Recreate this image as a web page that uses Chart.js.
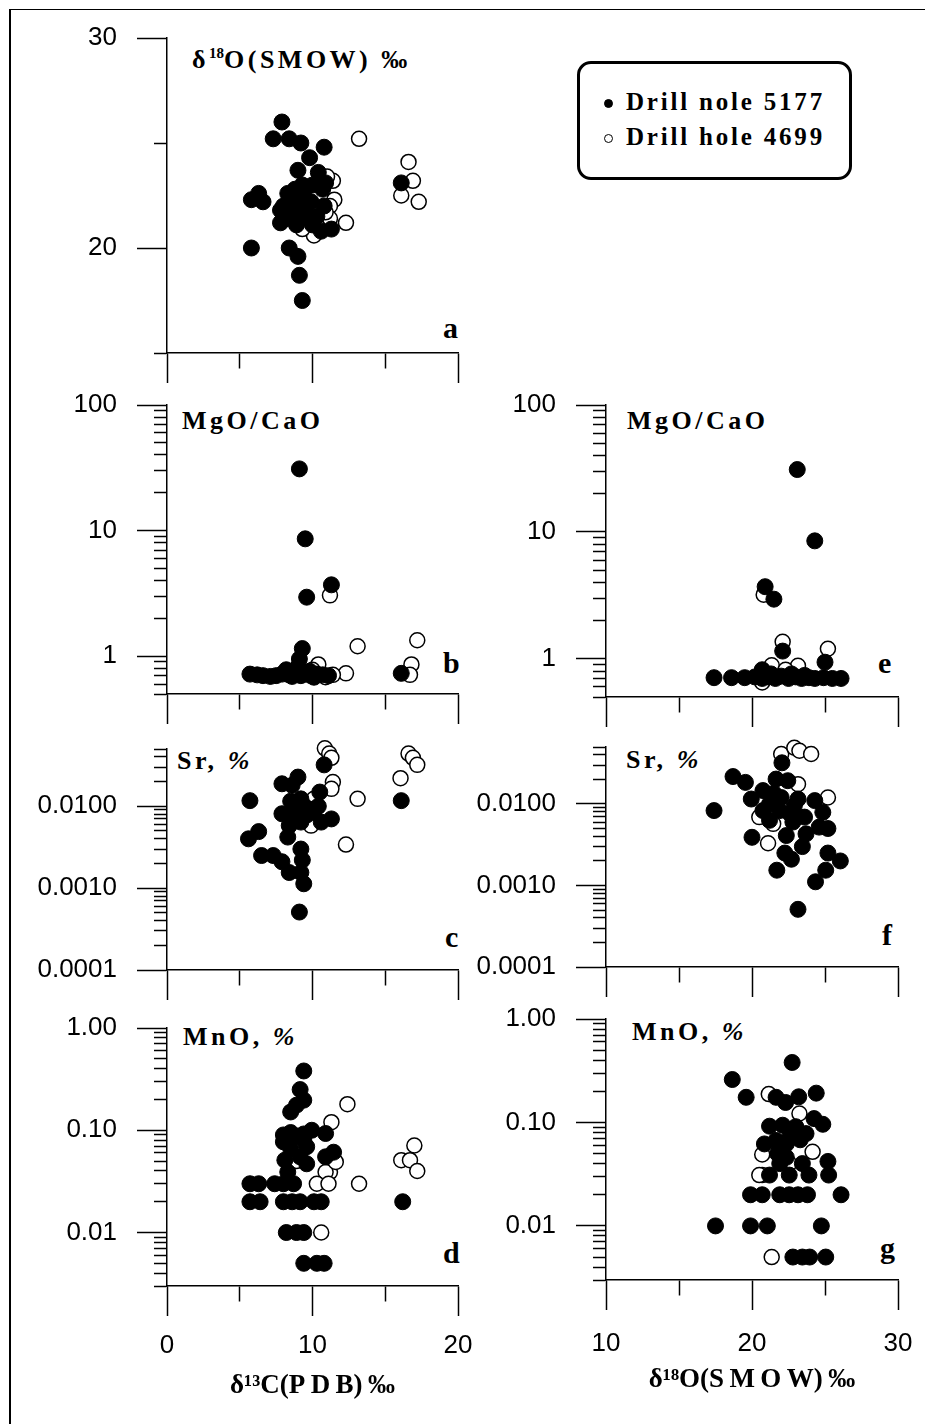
<!DOCTYPE html>
<html>
<head>
<meta charset="utf-8">
<script src="https://cdn.jsdelivr.net/npm/chart.js@4.4.1/dist/chart.umd.min.js"></script>
<style>
  body { margin: 0; background: #fff; width: 926px; height: 1424px; position: relative; overflow: hidden; }
  #frame { position: absolute; left: 9px; top: 9px; width: 914px; height: 1420px; border-left: 2px solid #000; border-top: 1px solid #000; }
  .panel { position: absolute; }
  .lbl { position: absolute; font: bold 26px "Liberation Serif", "Times New Roman", serif; line-height: 26px; letter-spacing: 3.5px; white-space: nowrap; color: #000; }
  .lbl sup { font-size: 15px; letter-spacing: 0; vertical-align: 10px; line-height: 0; }
  .let { position: absolute; font: bold 30px "Liberation Serif", "Times New Roman", serif; line-height: 30px; color: #000; }
  #legend { position: absolute; left: 577px; top: 61px; width: 275px; height: 119px; box-sizing: border-box; border: 3px solid #000; border-radius: 14px; }
  .leg { position: absolute; left: 46px; font: bold 25px "Liberation Serif", "Times New Roman", serif; line-height: 25px; letter-spacing: 2.8px; white-space: nowrap; }
  .dot { position: absolute; left: 24px; width: 9px; height: 9px; border-radius: 50%; box-sizing: border-box; border: 1.5px solid #000; }
</style>
</head>
<body>
<div id="frame"></div>

<div id="legend">
  <div class="dot" style="top:35px;background:#000"></div>
  <div class="leg" style="top:25px">Drill nole 5177</div>
  <div class="dot" style="top:70px;background:#fff"></div>
  <div class="leg" style="top:60px">Drill hole 4699</div>
</div>

<div class="lbl" style="left:192px;top:47px">δ<sup>18</sup>O(SMOW) ‰</div>
<div class="lbl" style="left:182px;top:408px">MgO/CaO</div>
<div class="lbl" style="left:627px;top:408px">MgO/CaO</div>
<div class="lbl" style="left:177px;top:748px">Sr, <i>%</i></div>
<div class="lbl" style="left:626px;top:747px">Sr, <i>%</i></div>
<div class="lbl" style="left:183px;top:1024px">MnO, <i>%</i></div>
<div class="lbl" style="left:632px;top:1019px">MnO, <i>%</i></div>

<div class="let" style="left:443px;top:313px">a</div>
<div class="let" style="left:443px;top:648px">b</div>
<div class="let" style="left:445px;top:922px">c</div>
<div class="let" style="left:443px;top:1238px">d</div>
<div class="let" style="left:878px;top:648px">e</div>
<div class="let" style="left:882px;top:920px">f</div>
<div class="let" style="left:880px;top:1233px">g</div>

<script>
// panel a: d13C vs d18O
var a5177 = [[7.9,26.0],[7.3,25.2],[8.4,25.2],[9.2,25.0],[10.8,24.8],[9.8,24.3],[9.0,23.7],[10.4,23.6],[10.9,23.1],[10.7,22.8],
  [5.8,22.3],[6.3,22.6],[6.6,22.2],[8.3,22.6],[8.0,22.0],[7.8,21.8],[8.6,22.3],[9.1,21.9],[9.6,21.6],[7.8,21.2],
  [8.9,21.1],[10.0,21.1],[10.6,20.8],[11.3,20.9],[10.8,22.0],[9.3,23.0],[10.0,23.0],[5.8,20.0],[8.4,20.0],[9.0,19.6],
  [9.1,18.7],[9.3,17.5],[16.1,23.1],[9.1,21.4],[8.5,21.4],[8.2,21.6],[9.4,22.4],[8.8,22.8],[9.6,22.9],[10.3,21.5],[9.9,22.2]];
var a4699 = [[13.2,25.2],[16.6,24.1],[16.9,23.2],[16.1,22.5],[17.3,22.2],[11.4,23.2],[11.5,22.3],[11.2,22.0],[12.3,21.2],
  [10.6,21.4],[10.1,20.6],[9.3,20.9],[11.2,21.4],[10.9,21.7],[11.0,23.4]];

// panel b: d13C vs MgO/CaO
var b5177 = [[9.1,31],[9.5,8.6],[9.6,2.95],[11.3,3.7],[9.3,1.15],[9.1,0.95],[8.2,0.78],[5.7,0.72],[6.2,0.71],[6.6,0.70],
  [7.1,0.69],[7.5,0.70],[7.9,0.72],[8.4,0.71],[8.8,0.74],[9.2,0.70],[9.5,0.72],[9.9,0.70],[10.3,0.72],[10.7,0.71],
  [11.1,0.70],[8.6,0.69],[9.8,0.76],[10.1,0.68],[9.0,0.82],[16.1,0.73]];
var b4699 = [[11.2,3.05],[13.1,1.2],[17.2,1.34],[16.8,0.86],[16.7,0.71],[12.3,0.73],[11.4,0.71],[10.9,0.68],[10.4,0.86],[10.0,0.78]];

// panel c: d13C vs Sr
var c5177 = [[10.8,0.032],[9.0,0.0227],[7.9,0.0188],[8.6,0.018],[10.5,0.0149],[5.7,0.0117],[9.2,0.0123],[7.9,0.0081],
  [8.7,0.0089],[9.4,0.0102],[10.1,0.0085],[11.3,0.0070],[10.6,0.0064],[8.4,0.0058],[9.2,0.0064],[8.3,0.0042],[6.3,0.0049],
  [5.6,0.0040],[9.2,0.0030],[6.5,0.0025],[7.3,0.0025],[7.9,0.0021],[8.4,0.00155],[9.3,0.0022],[9.2,0.00155],[9.4,0.00113],
  [9.1,0.00051],[16.1,0.0117],[8.8,0.0075],[9.8,0.0092],[8.5,0.0115],[9.6,0.0078],[10.4,0.0100]];
var c4699 = [[10.85,0.051],[11.15,0.044],[11.3,0.039],[11.4,0.0197],[11.3,0.0163],[13.1,0.0123],[12.3,0.0034],[16.6,0.044],
  [16.9,0.039],[17.2,0.032],[16.05,0.022],[10.1,0.0123],[9.9,0.0058]];

// panel d: d13C vs MnO
var d5177 = [[9.4,0.38],[9.15,0.25],[9.4,0.197],[8.9,0.176],[8.5,0.151],[8.0,0.09],[8.5,0.095],[8.9,0.088],[9.4,0.092],
  [9.95,0.1],[10.9,0.093],[8.0,0.077],[9.4,0.08],[8.5,0.066],[9.6,0.069],[8.1,0.051],[9.15,0.055],[9.6,0.047],[8.3,0.039],
  [10.9,0.055],[11.45,0.061],[5.7,0.03],[6.3,0.03],[7.4,0.03],[8.0,0.03],[8.7,0.03],[5.7,0.02],[6.4,0.02],[8.0,0.02],
  [8.6,0.02],[9.15,0.02],[10.1,0.02],[10.6,0.02],[16.2,0.02],[8.2,0.01],[8.9,0.01],[9.4,0.01],[9.4,0.005],[10.3,0.005],[10.8,0.005]];
var d4699 = [[12.4,0.18],[11.3,0.12],[17.0,0.071],[16.1,0.051],[16.7,0.051],[17.2,0.040],[13.2,0.030],[11.2,0.039],
  [10.9,0.039],[10.3,0.030],[11.1,0.030],[11.6,0.049],[10.6,0.010],[8.9,0.05]];

// panel e: d18O vs MgO/CaO
var e5177 = [[23.1,31],[24.3,8.5],[20.9,3.7],[21.5,2.95],[22.1,1.15],[25.0,0.94],[20.7,0.82],[17.4,0.71],[18.6,0.71],
  [19.5,0.71],[20.2,0.72],[20.7,0.70],[21.1,0.72],[21.6,0.70],[22.0,0.73],[22.5,0.70],[23.0,0.72],[23.4,0.70],[23.9,0.71],
  [24.3,0.70],[24.9,0.71],[25.5,0.70],[26.1,0.70],[21.3,0.76],[22.7,0.76],[23.6,0.74]];
var e4699 = [[20.8,3.2],[22.1,1.36],[25.2,1.2],[21.35,0.89],[23.15,0.88],[20.7,0.65],[22.3,0.82]];

// panel f: d18O vs Sr
var f5177 = [[17.4,0.0083],[18.7,0.0217],[19.55,0.0184],[19.95,0.0115],[20.75,0.0146],[22.05,0.032],[21.65,0.0202],
  [22.45,0.0193],[21.2,0.0100],[21.9,0.0083],[22.6,0.0076],[23.15,0.0115],[23.6,0.0069],[24.3,0.0110],[24.85,0.0079],
  [25.2,0.0050],[24.6,0.0052],[23.7,0.0043],[22.35,0.0041],[20.0,0.0039],[23.45,0.0030],[22.25,0.0025],[22.7,0.0021],
  [21.7,0.00154],[25.2,0.0025],[26.05,0.0020],[25.05,0.00154],[24.35,0.00111],[23.15,0.00051],[20.75,0.0083],[21.2,0.0063],
  [22.0,0.012],[22.9,0.0095],[21.5,0.0135],[22.8,0.0060]];
var f4699 = [[22.0,0.041],[22.9,0.049],[23.25,0.045],[24.05,0.041],[23.15,0.0175],[25.2,0.012],[20.5,0.0069],[21.1,0.0033],[21.45,0.0057]];

// panel g: d18O vs MnO
var g5177 = [[22.75,0.38],[18.65,0.26],[19.6,0.175],[21.65,0.175],[22.3,0.156],[23.2,0.177],[24.4,0.192],[24.85,0.096],
  [24.25,0.109],[21.2,0.092],[22.1,0.094],[23.0,0.091],[23.7,0.078],[20.85,0.062],[21.65,0.067],[22.35,0.062],[21.75,0.050],
  [22.35,0.046],[21.9,0.040],[23.45,0.040],[25.2,0.042],[25.25,0.031],[21.2,0.031],[22.55,0.031],[23.9,0.031],[22.1,0.058],
  [19.9,0.02],[20.7,0.02],[21.9,0.02],[22.55,0.02],[23.15,0.02],[23.8,0.02],[26.1,0.02],[17.5,0.01],[19.9,0.01],[21.05,0.01],
  [24.75,0.01],[22.8,0.005],[23.45,0.005],[23.95,0.005],[25.05,0.005],[22.6,0.075],[23.3,0.068]];
var g4699 = [[21.15,0.188],[23.25,0.122],[24.15,0.052],[20.7,0.049],[20.7,0.031],[20.5,0.031],[21.35,0.005],[22.55,0.04]];

// axis ranges and tick labels
var c13Range = [0, 20];
var o18Range = [10, 30];
var xStep = 5;
var xLabelled = [0, 10, 20, 30];
var aYRange = [15, 30];
var aYLabelled = [20, 30];
var ratioRange = [0.5, 100];
var srRange = [0.0001, 0.05];
var mnoRange = [0.003, 1];
var c13Title = 'δ¹³C(P\u2009D\u2009B)\u2009‰';
var o18Title = 'δ¹⁸O(S\u2009M\u2009O\u2009W)\u2009‰';

var tickFont = { family: '"Liberation Sans", Arial, sans-serif', size: 26 };
var titleFont = { family: '"Liberation Serif", "Times New Roman", serif', size: 27, weight: 'bold' };

function isDecade(v) {
  var l = Math.log10(v);
  return Math.abs(l - Math.round(l)) < 1e-6;
}

function logTicks(min, max) {
  var out = [];
  for (var e = Math.floor(Math.log10(min)); e <= Math.ceil(Math.log10(max)); e++) {
    for (var m = 1; m < 10; m++) {
      var v = +(m * Math.pow(10, e)).toPrecision(6);
      if (v >= min * 0.9999 && v <= max * 1.0001) out.push(v);
    }
  }
  return out;
}

function pts(arr) {
  return arr.map(function (p) { return { x: p[0], y: p[1] }; });
}

function makePanel(p) {
  var l = p.area[0], t = p.area[1], r = p.area[2], b = p.area[3];
  var YW = 150, PT = 16, PR = 24, XH = p.xTitle ? 120 : 32;
  var wrap = document.createElement('div');
  wrap.className = 'panel';
  wrap.style.left = (l - YW) + 'px';
  wrap.style.top = (t - PT) + 'px';
  var cv = document.createElement('canvas');
  cv.width = YW + (r - l) + PR;
  cv.height = PT + (b - t) + XH;
  wrap.appendChild(cv);
  document.body.appendChild(wrap);

  var yScale = {
    type: p.yLog ? 'logarithmic' : 'linear',
    position: 'left',
    min: p.yRange[0], max: p.yRange[1],
    afterFit: function (s) { s.width = YW; s.paddingTop = 0; s.paddingBottom = 0; },
    border: { color: '#000', width: 1.5 },
    grid: {
      drawOnChartArea: false, tickLength: 30, tickColor: '#000', tickWidth: 1.5,
      tickBorderDash: function (c) { return p.yMajor(c.tick.value) ? [] : [0, 17, 13, 100]; }
    },
    ticks: {
      autoSkip: false, padding: 20, color: '#000', font: tickFont,
      callback: function (v) { return p.yMajor(v) ? p.yLabel(v) : ''; }
    }
  };
  if (p.yLog) {
    yScale.afterBuildTicks = function (s) {
      s.ticks = logTicks(p.yRange[0], p.yRange[1]).map(function (v) { return { value: v }; });
    };
  } else {
    yScale.ticks.stepSize = 5;
  }

  new Chart(cv, {
    type: 'scatter',
    data: {
      datasets: [
        { label: 'Drill nole 5177', data: pts(p.filled), pointRadius: 8, pointHoverRadius: 8, clip: false,
          backgroundColor: '#000', borderColor: '#000', borderWidth: 1 },
        { label: 'Drill hole 4699', data: pts(p.open), pointRadius: 7.5, pointHoverRadius: 7.5, clip: false,
          backgroundColor: '#fff', borderColor: '#000', borderWidth: 1.5 }
      ]
    },
    options: {
      responsive: false,
      animation: false,
      events: [],
      layout: { autoPadding: false, padding: { top: PT, right: PR, left: 0, bottom: 0 } },
      plugins: { legend: { display: false }, tooltip: { enabled: false } },
      scales: {
        x: {
          type: 'linear', position: 'bottom',
          min: p.xRange[0], max: p.xRange[1],
          afterFit: function (s) { s.height = XH; s.paddingLeft = 0; s.paddingRight = 0; },
          border: { color: '#000', width: 1.5 },
          grid: {
            drawOnChartArea: false, tickLength: 30, tickColor: '#000', tickWidth: 1.5,
            tickBorderDash: function (c) { return xLabelled.indexOf(c.tick.value) >= 0 ? [] : [15, 100]; }
          },
          ticks: {
            stepSize: xStep, autoSkip: false, maxRotation: 0, padding: p.xPad || 15, color: '#000', font: tickFont,
            callback: function (v) { return p.xTitle && xLabelled.indexOf(v) >= 0 ? String(v) : ''; }
          },
          title: p.xTitle ? { display: true, text: p.xTitle, color: '#000', font: titleFont, padding: { top: 0, bottom: 4 } } : { display: false }
        },
        y: yScale
      }
    }
  });
}

var ratioFmt = function (v) { return String(Math.round(v)); };
var srFmt = function (v) { return v.toFixed(4); };
var mnoFmt = function (v) { return v.toFixed(2); };

makePanel({ area: [167, 38, 458, 353], xRange: c13Range, yRange: aYRange, yLog: false,
  yMajor: function (v) { return aYLabelled.indexOf(v) >= 0; }, yLabel: String, filled: a5177, open: a4699 });
makePanel({ area: [167, 405, 458, 694], xRange: c13Range, yRange: ratioRange, yLog: true,
  yMajor: isDecade, yLabel: ratioFmt, filled: b5177, open: b4699 });
makePanel({ area: [167, 749, 458, 970], xRange: c13Range, yRange: srRange, yLog: true,
  yMajor: isDecade, yLabel: srFmt, filled: c5177, open: c4699 });
makePanel({ area: [167, 1028, 458, 1286], xRange: c13Range, yRange: mnoRange, yLog: true,
  yMajor: isDecade, yLabel: mnoFmt, filled: d5177, open: d4699, xTitle: c13Title, xPad: 14 });
makePanel({ area: [606, 405, 898, 697], xRange: o18Range, yRange: ratioRange, yLog: true,
  yMajor: isDecade, yLabel: ratioFmt, filled: e5177, open: e4699 });
makePanel({ area: [606, 747, 898, 967], xRange: o18Range, yRange: srRange, yLog: true,
  yMajor: isDecade, yLabel: srFmt, filled: f5177, open: f4699 });
makePanel({ area: [606, 1019, 898, 1280], xRange: o18Range, yRange: mnoRange, yLog: true,
  yMajor: isDecade, yLabel: mnoFmt, filled: g5177, open: g4699, xTitle: o18Title, xPad: 18 });
</script>
</body>
</html>
